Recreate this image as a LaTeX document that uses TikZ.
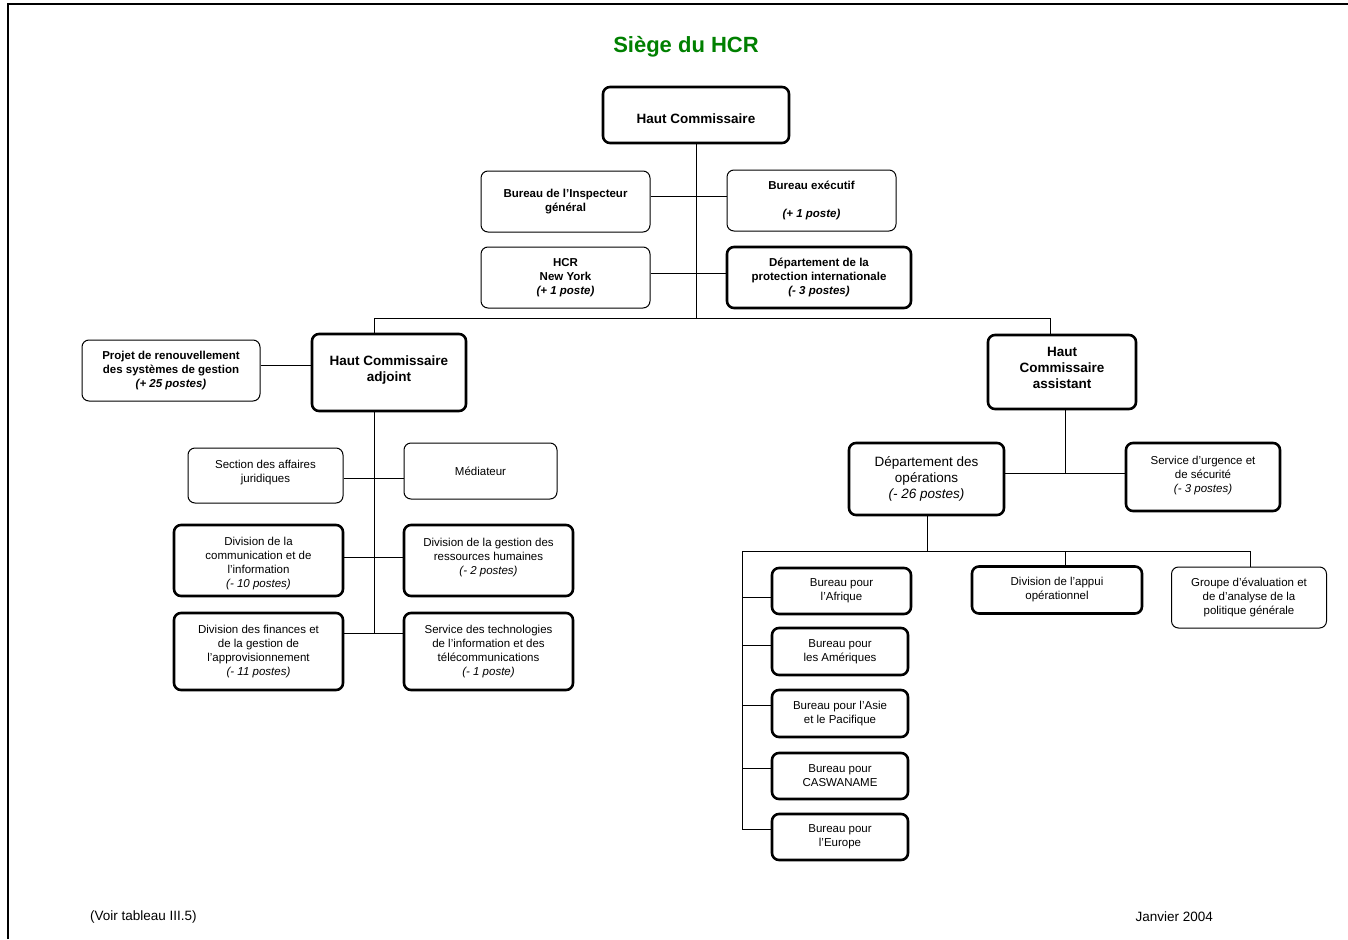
\documentclass[tikz,border=0pt]{standalone}
\usepackage{fontspec}
\setmainfont{Liberation Sans}
\definecolor{titlegreen}{RGB}{0,128,0}
\newcommand{\vmove}[2]{\raisebox{#1}[\height][\depth]{\begin{tabular}{@{}c@{}}#2\end{tabular}}}
\begin{document}
\begin{tikzpicture}[x=1pt,y=-1pt,
  box/.style={draw, rounded corners=7pt, align=center, inner sep=0pt, line width=1pt},
  heavy/.style={box, line width=2.6pt},
  lnk/.style={line width=1pt},
  fb/.style={font=\fontsize{11.5}{14}\selectfont\bfseries},
  fn/.style={font=\fontsize{11.5}{14}\selectfont},
  fbig/.style={font=\fontsize{13.5}{16}\selectfont\bfseries},
  fmid/.style={font=\fontsize{13.5}{16}\selectfont},
  foot/.style={font=\fontsize{13.5}{15}\selectfont, inner sep=0pt},
]
\useasboundingbox (0,0) rectangle (1348,939);
\fill[white] (0,0) rectangle (1348,939);
% page frame
\draw[line width=1.2pt] (8,939) -- (8,4) -- (1348,4);

% title
\node[font=\fontsize{22}{26}\selectfont\bfseries, text=titlegreen] (title) at (686,47) {Siège du HCR};

% top level
\node[heavy, fbig, minimum width=186pt, minimum height=56pt] (hc) at (696,115) {\vmove{-5pt}{Haut Commissaire}};
\node[box, fb, minimum width=169pt, minimum height=61pt] (insp) at (565.5,201.5) {Bureau de l’Inspecteur\\général};
\node[box, fb, minimum width=169pt, minimum height=61pt] (exec) at (811.5,200.5) {Bureau exécutif\\[14pt]\textit{(+ 1 poste)}};
\node[box, fb, minimum width=169pt, minimum height=61pt] (ny) at (565.5,277.5) {HCR\\New York\\\textit{(+ 1 poste)}};
\node[heavy, fb, minimum width=184pt, minimum height=61pt] (dpi) at (819,277.5) {Département de la\\protection internationale\\\textit{(- 3 postes)}};

% deputy
\node[heavy, fbig, minimum width=154pt, minimum height=77pt] (hca) at (389,372.5) {\vmove{2pt}{Haut Commissaire\\adjoint}};
\node[box, fb, minimum width=178pt, minimum height=61pt] (proj) at (171,370.5) {Projet de renouvellement\\des systèmes de gestion\\\textit{(+ 25 postes)}};
\node[box, fn, minimum width=155pt, minimum height=55pt] (sect) at (265.5,475.5) {\vmove{3pt}{Section des affaires\\juridiques}};
\node[box, fn, minimum width=153pt, minimum height=56pt] (med) at (480.5,471) {Médiateur};
\node[heavy, fn, minimum width=169pt, minimum height=71pt] (dcom) at (258.5,560.5) {\vmove{-3.5pt}{Division de la\\communication et de\\l’information\\\textit{(- 10 postes)}}};
\node[heavy, fn, minimum width=169pt, minimum height=71pt] (drh) at (488.5,560.5) {\vmove{3pt}{Division de la gestion des\\ressources humaines\\\textit{(- 2 postes)}}};
\node[heavy, fn, minimum width=169pt, minimum height=77pt] (dfin) at (258.5,651.5) {Division des finances et\\de la gestion de\\l’approvisionnement\\\textit{(- 11 postes)}};
\node[heavy, fn, minimum width=169pt, minimum height=77pt] (sti) at (488.5,651.5) {Service des technologies\\de l’information et des\\télécommunications\\\textit{(- 1 poste)}};

% assistant
\node[heavy, fbig, minimum width=148pt, minimum height=74pt] (hcas) at (1062,372) {\vmove{3pt}{Haut\\Commissaire\\assistant}};
\node[heavy, fmid, minimum width=155pt, minimum height=72pt] (dops) at (926.5,479) {Département des\\opérations\\\textit{(- 26 postes)}};
\node[heavy, fn, minimum width=154pt, minimum height=68pt] (surg) at (1203,477) {\vmove{1pt}{Service d’urgence et\\de sécurité\\\textit{(- 3 postes)}}};
\node[heavy, fn, minimum width=139pt, minimum height=46pt] (afr) at (841.5,591) {Bureau pour\\l’Afrique};
\node[heavy, fn, minimum width=136pt, minimum height=47pt] (ame) at (840,651.5) {Bureau pour\\les Amériques};
\node[heavy, fn, minimum width=136pt, minimum height=47pt] (asie) at (840,713.5) {Bureau pour l’Asie\\et le Pacifique};
\node[heavy, fn, minimum width=136pt, minimum height=46pt] (casw) at (840,776) {Bureau pour\\CASWANAME};
\node[heavy, fn, minimum width=136pt, minimum height=46pt] (eur) at (840,837) {Bureau pour\\l’Europe};
\node[heavy, fn, minimum width=170pt, minimum height=47pt] (appui) at (1057,590) {Division de l’appui\\opérationnel};
\node[box, fn, minimum width=155pt, minimum height=61pt] (grp) at (1249,597.5) {Groupe d’évaluation et\\de d’analyse de la\\politique générale};

% footer
\node[foot, anchor=west] (voir) at (90,917) {(Voir tableau III.5)};
\node[foot, anchor=east] (date) at (1213,917) {Janvier 2004};

% connectors
\coordinate (jT) at (696,318);
\coordinate (jL) at (374,318);
\coordinate (jR) at (1050,318);
\draw[lnk] (hc.south) -- (jT);
\draw[lnk] (jL) -- (jR);
\draw[lnk] (jL) -- (jL |- hca.north);
\draw[lnk] (jR) -- (jR |- hcas.north);
\draw[lnk] ([yshift=5.5pt]insp.east) -- ([yshift=5.5pt]insp.east -| exec.west);
\draw[lnk] ([yshift=4.5pt]ny.east) -- ([yshift=4.5pt]dpi.west);
\draw[lnk] ([yshift=5.5pt]proj.east) -- ([yshift=5.5pt]proj.east -| hca.west);

\coordinate (vA) at (374,633);
\draw[lnk] (hca.south -| vA) -- (vA);
\draw[lnk] ([yshift=-2.5pt]sect.east) -- ([yshift=-2.5pt]sect.east -| med.west);
\draw[lnk] ([yshift=3.5pt]dcom.east) -- ([yshift=3.5pt]drh.west);
\draw[lnk] ([yshift=18.5pt]dfin.east) -- ([yshift=18.5pt]sti.west);

\coordinate (jOps) at (1065,473);
\draw[lnk] (hcas.south -| jOps) -- (jOps);
\draw[lnk] (dops.east |- jOps) -- (surg.west |- jOps);

\coordinate (jB) at (927,551);
\coordinate (jBL) at (742,551);
\coordinate (jBR) at (1250,551);
\coordinate (jBA) at (1065,551);
\draw[lnk] (dops.south -| jB) -- (jB);
\draw[lnk] (jBL) -- (jBR);
\draw[lnk] (jBA) -- (jBA |- appui.north);
\draw[lnk] (jBR) -- (jBR |- grp.north);
\coordinate (jBE) at (742,829);
\draw[lnk] (jBL) -- (jBE);
\draw[lnk] ([yshift=-6pt]afr.west -| jBL) -- ([yshift=-6pt]afr.west);
\draw[lnk] ([yshift=6.5pt]ame.west -| jBL) -- ([yshift=6.5pt]ame.west);
\draw[lnk] ([yshift=8.5pt]asie.west -| jBL) -- ([yshift=8.5pt]asie.west);
\draw[lnk] ([yshift=8pt]casw.west -| jBL) -- ([yshift=8pt]casw.west);
\draw[lnk] (jBE) -- (jBE -| eur.west);
\end{tikzpicture}
\end{document}
